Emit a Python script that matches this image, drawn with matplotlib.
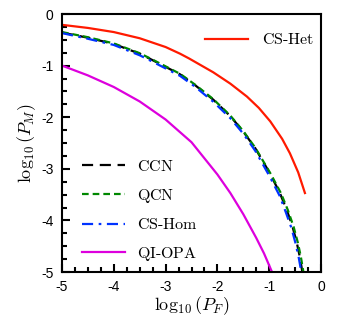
import numpy as np
import matplotlib
matplotlib.use("Agg")
import matplotlib.pyplot as plt
from matplotlib.ticker import MultipleLocator, FormatStrFormatter

plt.rcParams['mathtext.fontset'] = 'cm'
plt.rcParams['font.family'] = ['Liberation Sans', 'DejaVu Sans']
plt.rcParams['axes.unicode_minus'] = False

# Data (log10 P_F, log10 P_M)
het_x = [-5, -4.5, -4, -3.5, -3, -2.72, -2.55, -2.08, -1.75, -1.43, -1.2, -0.98, -0.75, -0.6, -0.44, -0.31]
het_y = [-0.21, -0.27, -0.35, -0.47, -0.64, -0.77, -0.86, -1.13, -1.35, -1.6, -1.82, -2.08, -2.42, -2.7, -3.07, -3.47]

ccn_x = [-5, -4.5, -4, -3.5, -3.26, -2.72, -2.43, -2.08, -1.75, -1.5, -1.27, -0.98, -0.79, -0.66, -0.55, -0.47, -0.41, -0.36]
ccn_y = [-0.36, -0.46, -0.58, -0.77, -0.89, -1.17, -1.38, -1.66, -1.98, -2.28, -2.6, -3.1, -3.48, -3.8, -4.12, -4.42, -4.7, -5.0]

qcn_x = [-5, -4.5, -4, -3.5, -3.26, -2.72, -2.43, -2.08, -1.75, -1.5, -1.27, -0.97, -0.77, -0.64, -0.53, -0.45, -0.39, -0.34]
qcn_y = [-0.35, -0.45, -0.57, -0.76, -0.88, -1.16, -1.37, -1.65, -1.97, -2.27, -2.59, -3.1, -3.48, -3.8, -4.12, -4.42, -4.7, -5.0]

hom_x = [-5, -4.5, -4, -3.5, -3.26, -2.72, -2.43, -2.08, -1.75, -1.5, -1.27, -0.99, -0.8, -0.68, -0.57, -0.49, -0.43, -0.38]
hom_y = [-0.37, -0.48, -0.6, -0.8, -0.92, -1.2, -1.41, -1.7, -2.02, -2.32, -2.65, -3.15, -3.52, -3.84, -4.15, -4.45, -4.72, -5.0]

opa_x = [-5, -4.5, -4, -3.5, -3, -2.5, -2, -1.75, -1.5, -1.25, -1.1, -0.95]
opa_y = [-1.0, -1.19, -1.415, -1.695, -2.045, -2.485, -3.11, -3.47, -3.88, -4.34, -4.64, -4.99]

fig = plt.figure(figsize=(3.46, 3.31), dpi=100)
ax = fig.add_axes([62/346, 1 - 272/331, (321-62)/346, (272-14)/331])

l_het, = ax.plot(het_x, het_y, color='#ff1a00', lw=1.6, label=r'$\mathrm{CS\text{-}Het}$')
l_ccn, = ax.plot(ccn_x, ccn_y, color='black', lw=1.6, ls=(0, (5, 3)), label=r'$\mathrm{CCN}$')
l_qcn, = ax.plot(qcn_x, qcn_y, color='#008800', lw=1.6, ls=(0, (3, 1.8)), label=r'$\mathrm{QCN}$')
l_hom, = ax.plot(hom_x, hom_y, color='#0033ff', lw=1.6, ls=(0, (5, 2.5, 1.2, 2.5)), label=r'$\mathrm{CS\text{-}Hom}$')
l_opa, = ax.plot(opa_x, opa_y, color='#dd00dd', lw=1.6, label=r'$\mathrm{QI\text{-}OPA}$')

ax.set_xlim(-5, 0)
ax.set_ylim(-5, 0)
ax.xaxis.set_major_locator(MultipleLocator(1))
ax.yaxis.set_major_locator(MultipleLocator(1))
ax.xaxis.set_minor_locator(MultipleLocator(0.25))
ax.yaxis.set_minor_locator(MultipleLocator(0.25))
ax.xaxis.set_major_formatter(FormatStrFormatter('%d'))
ax.yaxis.set_major_formatter(FormatStrFormatter('%d'))
ax.tick_params(which='major', direction='in', length=6, width=1.5, labelsize=10, pad=6)
ax.tick_params(which='minor', direction='in', length=3.5, width=1.5)
ax.tick_params(which='both', top=False, right=False)
for s in ax.spines.values():
    s.set_linewidth(1.5)

ax.set_xlabel(r'$\log_{10}(P_F)$', fontsize=13, labelpad=0)
ax.set_ylabel(r'$\log_{10}(P_M)$', fontsize=13, labelpad=2)

leg1 = ax.legend(handles=[l_het], loc='upper right', frameon=False, fontsize=11.5,
                 handlelength=2.7, handletextpad=0.9, bbox_to_anchor=(1.03, 0.985))
ax.add_artist(leg1)
ax.legend(handles=[l_ccn, l_qcn, l_hom, l_opa], loc='lower left', frameon=False,
          fontsize=11.5, handlelength=2.7, handletextpad=0.8, labelspacing=0.79,
          bbox_to_anchor=(0.02, -0.02))

fig.savefig('out.png', dpi=100)
